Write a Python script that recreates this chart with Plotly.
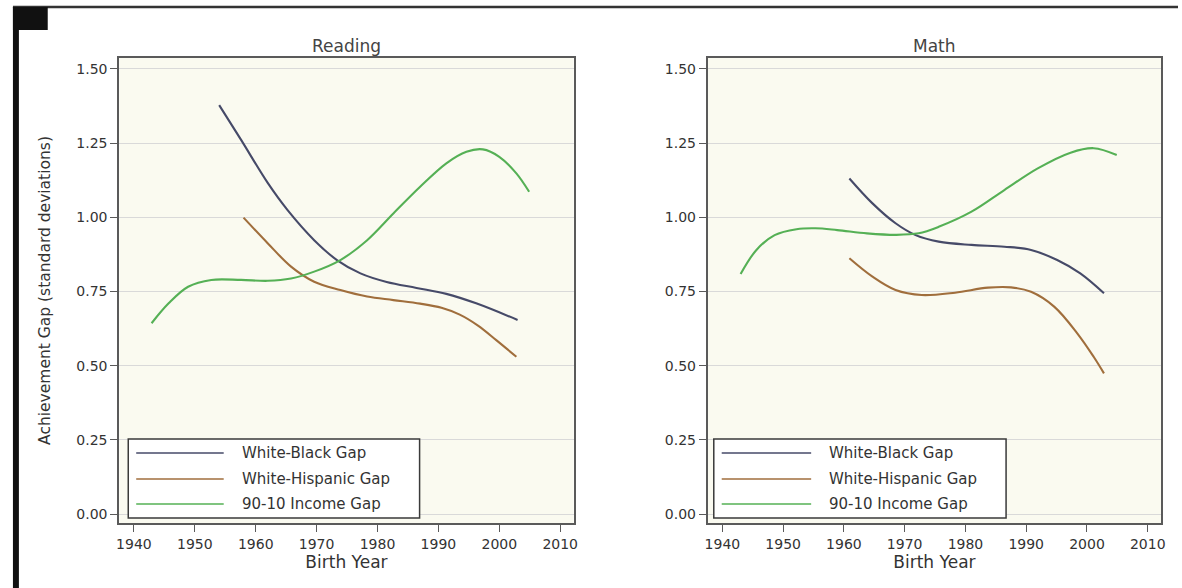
import plotly.graph_objects as go

# ---------------- data ----------------
series_names = ["White-Black Gap", "White-Hispanic Gap", "90-10 Income Gap"]
series_colors = ["#464A68", "#A06E3C", "#55B055"]
panel_titles = ["Reading", "Math"]

x_ticks = [1940, 1950, 1960, 1970, 1980, 1990, 2000, 2010]
y_ticks = [0.0, 0.25, 0.5, 0.75, 1.0, 1.25, 1.5]
y_tick_labels = ["0.00", "0.25", "0.50", "0.75", "1.00", "1.25", "1.50"]

reading_bw_year = [1954.0, 1957.6, 1962.0, 1965.2, 1969.6, 1973.4, 1977.2, 1981.5, 1986.4, 1991.3, 1996.2, 2003.0]
reading_bw = [1.378, 1.261, 1.115, 1.025, 0.923, 0.855, 0.811, 0.782, 0.762, 0.742, 0.710, 0.654]

reading_wh_year = [1958.0, 1962.0, 1965.8, 1969.6, 1973.9, 1978.3, 1982.6, 1987.0, 1990.5, 1993.5, 1996.5, 1999.5, 2002.8]
reading_wh = [0.999, 0.912, 0.834, 0.783, 0.755, 0.733, 0.721, 0.709, 0.695, 0.672, 0.635, 0.586, 0.530]

reading_inc_year = [1942.9, 1945.7, 1948.9, 1952.7, 1957.6, 1962.0, 1965.8, 1969.6, 1973.9, 1978.3,
                    1982.6, 1987.0, 1991.3, 1994.6, 1997.3, 2000.0, 2002.8, 2004.9]
reading_inc = [0.643, 0.710, 0.766, 0.789, 0.789, 0.786, 0.794, 0.817, 0.856, 0.923,
               1.013, 1.103, 1.182, 1.221, 1.229, 1.204, 1.148, 1.086]

math_bw_year = [1960.9, 1964.7, 1968.5, 1971.8, 1975.6, 1981.0, 1986.4, 1990.8, 1995.1, 1998.9, 2002.8]
math_bw = [1.131, 1.047, 0.980, 0.940, 0.918, 0.907, 0.901, 0.890, 0.856, 0.811, 0.744]

math_wh_year = [1960.9, 1964.7, 1968.5, 1972.8, 1978.3, 1983.7, 1987.5, 1990.8, 1994.6, 1998.4, 2001.1, 2002.8]
math_wh = [0.862, 0.800, 0.755, 0.738, 0.746, 0.763, 0.764, 0.749, 0.699, 0.609, 0.530, 0.474]

math_inc_year = [1943.0, 1945.6, 1948.6, 1952.2, 1955.3, 1958.9, 1963.8, 1968.6, 1972.3, 1975.6,
                 1981.0, 1986.4, 1991.9, 1997.3, 2001.1, 2004.9]
math_inc = [0.809, 0.890, 0.940, 0.960, 0.963, 0.957, 0.946, 0.941, 0.946, 0.968,
            1.019, 1.092, 1.165, 1.218, 1.233, 1.210]

panels = [
    [(reading_bw_year, reading_bw), (reading_wh_year, reading_wh), (reading_inc_year, reading_inc)],
    [(math_bw_year, math_bw), (math_wh_year, math_wh), (math_inc_year, math_inc)],
]

# ---------------- layout constants ----------------
W, H = 1182, 588
FONT = "DejaVu Sans"
TEXT = "#333333"
px_x = lambda p: p / W
px_y = lambda p: 1 - p / H

domains_x = [[px_x(117), px_x(574)], [px_x(709), px_x(1165)]]
domain_y = [px_y(523), px_y(58)]

fig = go.Figure()

for i, panel in enumerate(panels):
    xa = "x" if i == 0 else "x2"
    ya = "y" if i == 0 else "y2"
    for (xs, ys), name, col in zip(panel, series_names, series_colors):
        fig.add_trace(go.Scatter(
            x=xs, y=ys, mode="lines", name=name, xaxis=xa, yaxis=ya,
            line=dict(color=col, width=2.1, shape="spline", smoothing=1.0),
            showlegend=False,
        ))

axis_common = dict(
    showline=True, mirror=True, linecolor="#5a5a5a", linewidth=2,
    ticks="outside", ticklen=7, tickwidth=1, tickcolor="#5a5a5a",
    tickfont=dict(family=FONT, size=14, color=TEXT),
    zeroline=False,
)

for i in range(2):
    sfx = "" if i == 0 else "2"
    fig.update_layout(**{
        "xaxis" + sfx: dict(
            axis_common, domain=domains_x[i], anchor="y" + sfx,
            range=[1937.6, 2012.2], tickvals=x_ticks, showgrid=False,
            title=dict(text="Birth Year", font=dict(family=FONT, size=17, color=TEXT), standoff=3),
        ),
        "yaxis" + sfx: dict(
            axis_common, domain=domain_y, anchor="x" + sfx,
            range=[-0.0303, 1.537], tickvals=y_ticks, ticktext=y_tick_labels,
            showgrid=True, gridcolor="#D9D9D9", gridwidth=1,
        ),
    })

fig.update_layout(yaxis=dict(title=dict(
    text="Achievement Gap (standard deviations)",
    font=dict(family=FONT, size=15.5, color=TEXT), standoff=22)))

annotations = []
shapes = []

# subplot titles
for i, t in enumerate(panel_titles):
    annotations.append(dict(
        text=t, xref="paper", yref="paper", x=(domains_x[i][0] + domains_x[i][1]) / 2,
        y=px_y(46), xanchor="center", yanchor="middle", showarrow=False,
        font=dict(family=FONT, size=17, color="#444444"),
    ))

# legends (one boxed key per panel)
legend_geom = [
    dict(box=(0.0197, 0.661), line=(0.0372, 0.2298), text=0.2648),
    dict(box=(0.0132, 0.658), line=(0.0307, 0.228), text=0.263),
]
box_y = (0.0108, 0.1806)
row_y = [0.1505, 0.0946, 0.0409]
for i, g in enumerate(legend_geom):
    sfx = "" if i == 0 else "2"
    shapes.append(dict(
        type="rect", xref="x" + sfx + " domain", yref="y" + sfx + " domain",
        x0=g["box"][0], x1=g["box"][1], y0=box_y[0], y1=box_y[1],
        fillcolor="white", line=dict(color="#3a3a3a", width=1.5), layer="above",
    ))
    for name, col, ry in zip(series_names, series_colors, row_y):
        shapes.append(dict(
            type="line", xref="x" + sfx + " domain", yref="y" + sfx + " domain",
            x0=g["line"][0], x1=g["line"][1], y0=ry, y1=ry,
            line=dict(color=col, width=1.6), layer="above",
        ))
        annotations.append(dict(
            text=name, xref="x" + sfx + " domain", yref="y" + sfx + " domain",
            x=g["text"], y=ry, xanchor="left", yanchor="middle", showarrow=False,
            font=dict(family=FONT, size=15, color=TEXT),
        ))

# outer frame decorations
shapes.append(dict(type="rect", xref="paper", yref="paper",
                   x0=px_x(10), x1=px_x(16), y0=0, y1=px_y(7),
                   fillcolor="#111111", line=dict(width=0)))
shapes.append(dict(type="line", xref="paper", yref="paper",
                   x0=px_x(10), x1=1, y0=px_y(7), y1=px_y(7),
                   line=dict(color="#333333", width=2.5)))
shapes.append(dict(type="rect", xref="paper", yref="paper",
                   x0=px_x(10), x1=px_x(45), y0=px_y(30), y1=px_y(7),
                   fillcolor="#111111", line=dict(width=0)))

fig.update_layout(
    width=W, height=H, autosize=False,
    margin=dict(l=0, r=0, t=0, b=0),
    paper_bgcolor="white", plot_bgcolor="#FAFAF0",
    showlegend=False,
    annotations=annotations, shapes=shapes,
    font=dict(family=FONT, color=TEXT),
)

fig.write_html(
    "out.html",
    config={"displayModeBar": False},
    post_script="document.body.style.margin='0';document.body.style.overflow='hidden';",
)
